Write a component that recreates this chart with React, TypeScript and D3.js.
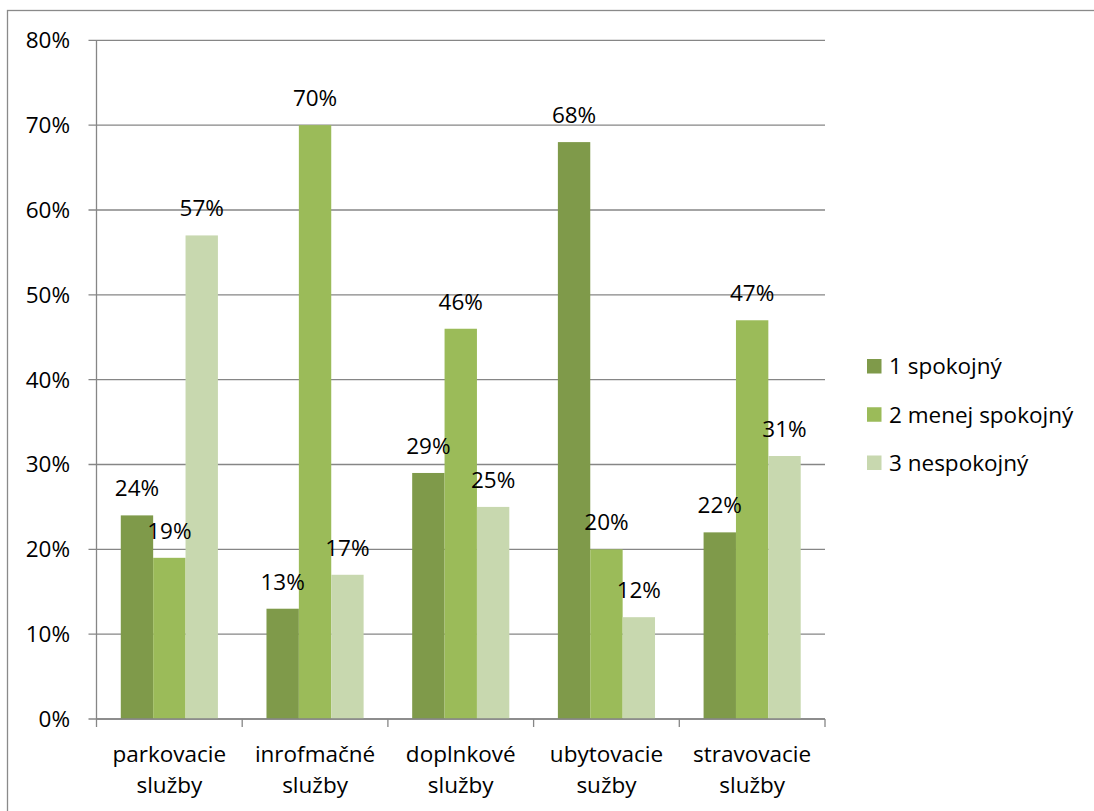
import { useEffect } from 'react'
import * as d3 from 'd3'

const categories = [
  ['parkovacie', 'služby'],
  ['inrofmačné', 'služby'],
  ['doplnkové', 'služby'],
  ['ubytovacie', 'sužby'],
  ['stravovacie', 'služby'],
]
const seriesNames = ['1 spokojný', '2 menej spokojný', '3 nespokojný']
const spokojny = [0.24, 0.13, 0.29, 0.68, 0.22]
const menejSpokojny = [0.19, 0.7, 0.46, 0.2, 0.47]
const nespokojny = [0.57, 0.17, 0.25, 0.12, 0.31]
const seriesValues = [spokojny, menejSpokojny, nespokojny]
const seriesColors = ['#7F9A4A', '#9BBB59', '#C8D8AF']
const yTicks = [0, 0.1, 0.2, 0.3, 0.4, 0.5, 0.6, 0.7, 0.8]

const W = 1094
const H = 811
const FONT = '"Open Sans", sans-serif'
const FS = 22.5

export default function App() {
  useEffect(() => {
    document.body.style.margin = '0'
  }, [])

  const plot = { left: 96.5, right: 825, top: 40.3, bottom: 719 }

  const x = d3.scaleBand<number>()
    .domain(d3.range(categories.length))
    .range([plot.left, plot.right])
    .padding(0)
  const step = x.step()
  // Excel gap width 150%: group = 3 bars + 1.5 bars of gap
  const barW = step / 4.5
  const xs = d3.scaleBand<number>()
    .domain(d3.range(seriesNames.length))
    .range([barW * 0.75, step - barW * 0.75])
    .padding(0)
  const y = d3.scaleLinear().domain([0, 0.8]).range([plot.bottom, plot.top])
  const fmt = d3.format('.0%')

  const legendRows = d3.scalePoint<number>()
    .domain(d3.range(seriesNames.length))
    .range([366.5, 463])

  const boundaries = d3.range(categories.length + 1).map(i => plot.left + i * step)

  return (
    <svg width={W} height={H} style={{ display: 'block', background: '#fff' }} fontFamily={FONT}>
      <rect x={7.5} y={10.5} width={W + 10} height={H + 10} fill="#fff" stroke="#8a8a8a" strokeWidth={1.3} />

      {/* gridlines + y ticks */}
      {yTicks.map(t => (
        <g key={t}>
          <line x1={plot.left - 8} x2={plot.right} y1={y(t)} y2={y(t)} stroke="#868686" strokeWidth={1.3} />
          <text x={70} y={y(t)} dy="0.35em" textAnchor="end" fontSize={FS} fill="#000">
            {fmt(t)}
          </text>
        </g>
      ))}

      {/* y axis line */}
      <line x1={plot.left} x2={plot.left} y1={plot.top} y2={plot.bottom} stroke="#868686" strokeWidth={1.3} />

      {/* bars */}
      {seriesValues.map((vals, s) =>
        vals.map((v, i) => (
          <rect
            key={`${s}-${i}`}
            x={x(i)! + xs(s)!}
            y={y(v)}
            width={xs.bandwidth()}
            height={plot.bottom - y(v)}
            fill={seriesColors[s]}
          />
        )),
      )}

      {/* x axis */}
      <line x1={plot.left} x2={plot.right} y1={plot.bottom} y2={plot.bottom} stroke="#868686" strokeWidth={1.3} />
      {boundaries.map((bx, i) => (
        <line key={i} x1={bx} x2={bx} y1={plot.bottom} y2={plot.bottom + 8} stroke="#868686" strokeWidth={1.3} />
      ))}

      {/* data labels */}
      {seriesValues.map((vals, s) =>
        vals.map((v, i) => (
          <text
            key={`l-${s}-${i}`}
            x={x(i)! + xs(s)! + xs.bandwidth() / 2}
            y={y(v) - 19}
            textAnchor="middle"
            fontSize={FS}
            fill="#000"
          >
            {fmt(v)}
          </text>
        )),
      )}

      {/* category labels */}
      {categories.map((lines, i) => (
        <text key={i} x={x(i)! + step / 2} textAnchor="middle" fontSize={FS} fill="#000">
          <tspan x={x(i)! + step / 2} y={761.5}>{lines[0]}</tspan>
          <tspan x={x(i)! + step / 2} y={793}>{lines[1]}</tspan>
        </text>
      ))}

      {/* legend */}
      {seriesNames.map((name, s) => (
        <g key={name} transform={`translate(867,${legendRows(s)})`}>
          <rect x={0} y={-7.5} width={14.5} height={14.5} fill={seriesColors[s]} />
          <text x={22} y={0} dy="0.35em" fontSize={FS} fill="#000">
            {name}
          </text>
        </g>
      ))}
    </svg>
  )
}
